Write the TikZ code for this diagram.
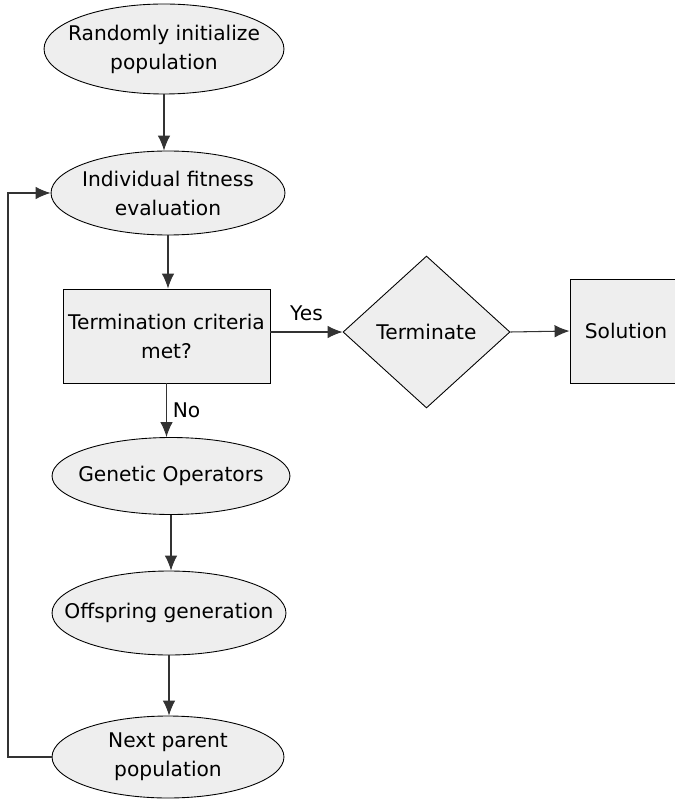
\documentclass[tikz,border=0pt]{standalone}
\usepackage{fontspec}
\setmainfont{DejaVu Sans}
\usetikzlibrary{shapes.geometric,arrows.meta}
\begin{document}
\begin{tikzpicture}[x=0.02cm, y=-0.02cm, font=\fontsize{11.5}{16.5}\selectfont,
    blob/.style={ellipse, draw=borderColour, fill=fillColour, line width=0.5pt, inner xsep=-0.5cm, inner ysep=0pt, align=center},
    box/.style={rectangle, draw=borderColour, fill=fillColour, line width=0.5pt, inner sep=0pt, align=center},
    flow/.style={draw=lineColour, line width=0.6pt, -{Latex[length=3mm,width=2.5mm]}}]

    \definecolor{borderColour}{HTML}{000000}
    \definecolor{fillColour}{HTML}{EEEEEE}
    \definecolor{lineColour}{HTML}{333333}

    % Page frame
    \useasboundingbox (0,0) rectangle (675,800);
    \clip (0,0) rectangle (675,800);

    % Main column
    \node[blob, minimum width=4.8cm, minimum height=1.8cm] (init) at (164,49) {Randomly initialize\\population};
    \node[blob, minimum width=4.68cm, minimum height=1.68cm] (fitness) at (168,193) {Individual fitness\\evaluation};
    \node[box, minimum width=4.14cm, minimum height=1.88cm] (check) at (166.5,336) {Termination criteria\\met?};
    \node[blob, minimum width=4.76cm, minimum height=1.54cm] (genetic) at (171,476) {Genetic Operators};
    \node[blob, minimum width=4.68cm, minimum height=1.68cm] (offspring) at (169,613) {Offspring generation};
    \node[blob, minimum width=4.64cm, minimum height=1.64cm] (next) at (168,757) {Next parent\\population};

    % Exit branch
    \node[diamond, draw=borderColour, fill=fillColour, line width=0.5pt, inner sep=0pt,
          minimum width=3.34cm, minimum height=3.04cm] (stop) at (426.5,332) {Terminate};
    \node[box, minimum width=2.24cm, minimum height=2.08cm] (solution) at (626,331) {Solution};

    % Connectors
    \draw[flow] (init.south) -- (init.south |- fitness.north);
    \draw[flow] (fitness.south) -- (fitness.south |- check.north);
    \draw[flow] (check.south) -- (check.south |- genetic.north) node[midway, right] {No};
    \draw[flow] (genetic.south) -- (genetic.south |- offspring.north);
    \draw[flow] (offspring.south) -- (offspring.south |- next.north);
    \draw[flow] (check.east |- stop.west) -- (stop.west) node[midway, above=3pt] {Yes};
    \draw[flow] (stop.east) -- (solution.west);

    % Loop back
    \coordinate (loop) at (8,757);
    \draw[flow] (next.west) -- (loop) |- (fitness.west);

\end{tikzpicture}
\end{document}
